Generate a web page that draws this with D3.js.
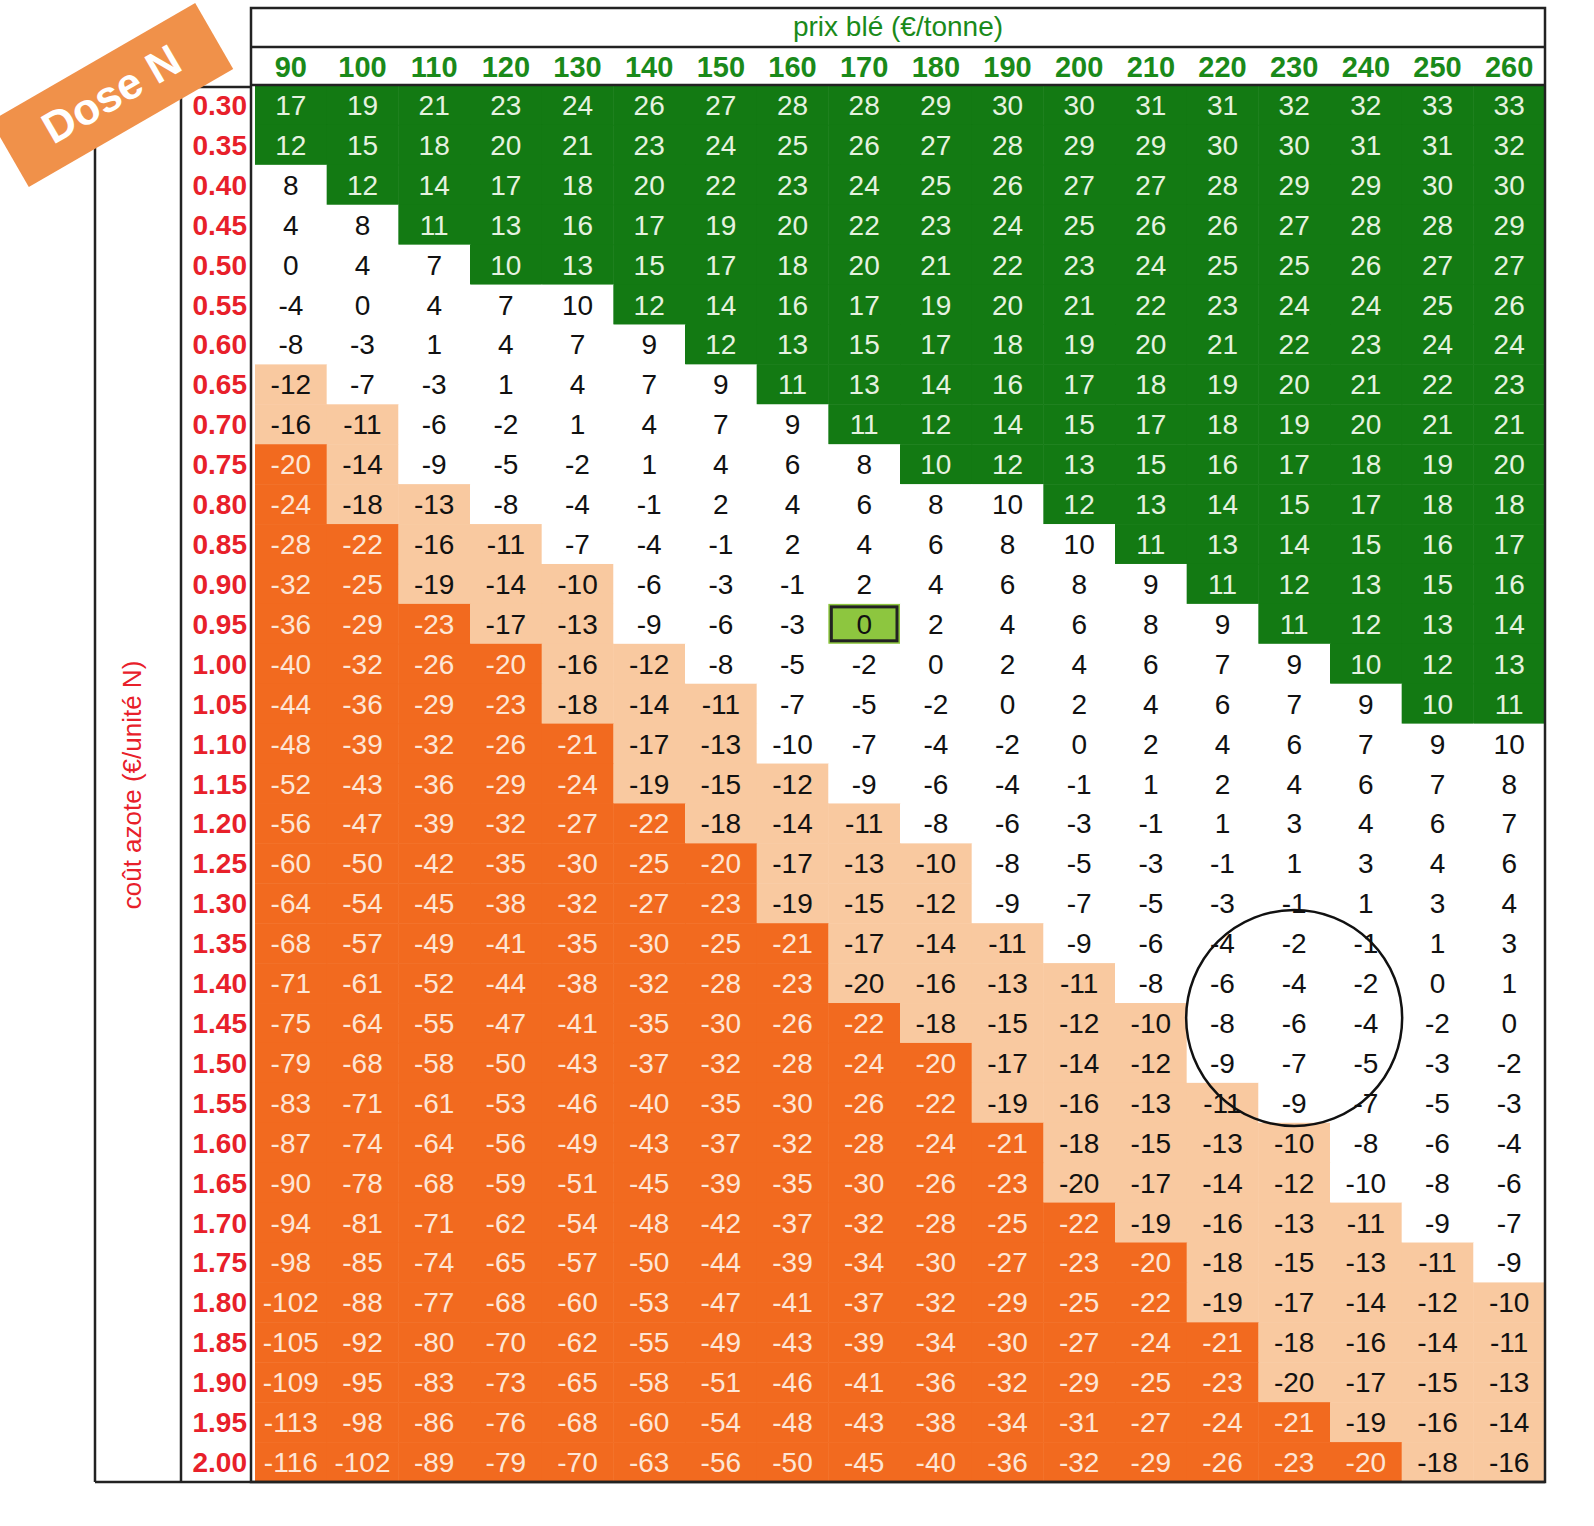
<!DOCTYPE html>
<html><head><meta charset="utf-8">
<script src="https://cdn.jsdelivr.net/npm/d3@7"></script>
<style>body{margin:0;background:#fff}</style></head>
<body><svg id="c" width="1594" height="1526"></svg>
<script>
const prices = [90,100,110,120,130,140,150,160,170,180,190,200,210,220,230,240,250,260];
const costs = ["0.30","0.35","0.40","0.45","0.50","0.55","0.60","0.65","0.70","0.75","0.80","0.85","0.90","0.95","1.00","1.05","1.10","1.15","1.20","1.25","1.30","1.35","1.40","1.45","1.50","1.55","1.60","1.65","1.70","1.75","1.80","1.85","1.90","1.95","2.00"];
const values = [
[17,19,21,23,24,26,27,28,28,29,30,30,31,31,32,32,33,33],
[12,15,18,20,21,23,24,25,26,27,28,29,29,30,30,31,31,32],
[8,12,14,17,18,20,22,23,24,25,26,27,27,28,29,29,30,30],
[4,8,11,13,16,17,19,20,22,23,24,25,26,26,27,28,28,29],
[0,4,7,10,13,15,17,18,20,21,22,23,24,25,25,26,27,27],
[-4,0,4,7,10,12,14,16,17,19,20,21,22,23,24,24,25,26],
[-8,-3,1,4,7,9,12,13,15,17,18,19,20,21,22,23,24,24],
[-12,-7,-3,1,4,7,9,11,13,14,16,17,18,19,20,21,22,23],
[-16,-11,-6,-2,1,4,7,9,11,12,14,15,17,18,19,20,21,21],
[-20,-14,-9,-5,-2,1,4,6,8,10,12,13,15,16,17,18,19,20],
[-24,-18,-13,-8,-4,-1,2,4,6,8,10,12,13,14,15,17,18,18],
[-28,-22,-16,-11,-7,-4,-1,2,4,6,8,10,11,13,14,15,16,17],
[-32,-25,-19,-14,-10,-6,-3,-1,2,4,6,8,9,11,12,13,15,16],
[-36,-29,-23,-17,-13,-9,-6,-3,0,2,4,6,8,9,11,12,13,14],
[-40,-32,-26,-20,-16,-12,-8,-5,-2,0,2,4,6,7,9,10,12,13],
[-44,-36,-29,-23,-18,-14,-11,-7,-5,-2,0,2,4,6,7,9,10,11],
[-48,-39,-32,-26,-21,-17,-13,-10,-7,-4,-2,0,2,4,6,7,9,10],
[-52,-43,-36,-29,-24,-19,-15,-12,-9,-6,-4,-1,1,2,4,6,7,8],
[-56,-47,-39,-32,-27,-22,-18,-14,-11,-8,-6,-3,-1,1,3,4,6,7],
[-60,-50,-42,-35,-30,-25,-20,-17,-13,-10,-8,-5,-3,-1,1,3,4,6],
[-64,-54,-45,-38,-32,-27,-23,-19,-15,-12,-9,-7,-5,-3,-1,1,3,4],
[-68,-57,-49,-41,-35,-30,-25,-21,-17,-14,-11,-9,-6,-4,-2,-1,1,3],
[-71,-61,-52,-44,-38,-32,-28,-23,-20,-16,-13,-11,-8,-6,-4,-2,0,1],
[-75,-64,-55,-47,-41,-35,-30,-26,-22,-18,-15,-12,-10,-8,-6,-4,-2,0],
[-79,-68,-58,-50,-43,-37,-32,-28,-24,-20,-17,-14,-12,-9,-7,-5,-3,-2],
[-83,-71,-61,-53,-46,-40,-35,-30,-26,-22,-19,-16,-13,-11,-9,-7,-5,-3],
[-87,-74,-64,-56,-49,-43,-37,-32,-28,-24,-21,-18,-15,-13,-10,-8,-6,-4],
[-90,-78,-68,-59,-51,-45,-39,-35,-30,-26,-23,-20,-17,-14,-12,-10,-8,-6],
[-94,-81,-71,-62,-54,-48,-42,-37,-32,-28,-25,-22,-19,-16,-13,-11,-9,-7],
[-98,-85,-74,-65,-57,-50,-44,-39,-34,-30,-27,-23,-20,-18,-15,-13,-11,-9],
[-102,-88,-77,-68,-60,-53,-47,-41,-37,-32,-29,-25,-22,-19,-17,-14,-12,-10],
[-105,-92,-80,-70,-62,-55,-49,-43,-39,-34,-30,-27,-24,-21,-18,-16,-14,-11],
[-109,-95,-83,-73,-65,-58,-51,-46,-41,-36,-32,-29,-25,-23,-20,-17,-15,-13],
[-113,-98,-86,-76,-68,-60,-54,-48,-43,-38,-34,-31,-27,-24,-21,-19,-16,-14],
[-116,-102,-89,-79,-70,-63,-56,-50,-45,-40,-36,-32,-29,-26,-23,-20,-18,-16]];
// per-row zone boundaries (column index): green from, dark orange count, white from
const greenFrom = [0,0,1,2,3,5,6,7,8,9,11,12,13,14,15,16,18,18,18,18,18,18,18,18,18,18,18,18,18,18,18,18,18,18,18];
const darkCount = [0,0,0,0,0,0,0,0,0,1,1,2,2,3,4,4,5,5,6,7,7,8,8,9,10,10,11,11,12,13,13,14,14,15,16];
const whiteFrom = [0,0,0,0,0,0,0,1,2,2,3,4,5,5,6,7,7,8,9,10,10,11,12,13,13,14,15,15,16,17,18,18,18,18,18];
const optimum = {cost:"0.95", price:170};
const circleCenter = {cost:"1.45", price:230};

const svg = d3.select("#c");
const x = d3.scaleBand().domain(prices).range([255,1545]);
const y = d3.scaleBand().domain(costs).range([85,1482]);
const font = "Arial, 'Liberation Sans', sans-serif";
const cells = [];
costs.forEach((c,i)=>prices.forEach((p,j)=>{
  let z = j>=greenFrom[i] ? "g" : j<darkCount[i] ? "d" : j<whiteFrom[i] ? "p" : "w";
  if (c===optimum.cost && p===optimum.price) z="opt";
  cells.push({c,p,v:values[i][j],z});
}));
const fill={g:"#137a13",d:"#f26a1f",p:"#f9c9a0",w:"#fff",opt:"#8dc63f"};
const tcol={g:"#e6f2e0",d:"#fde6d6",p:"#111",w:"#111",opt:"#111"};
svg.append("g").selectAll("rect").data(cells).join("rect")
  .attr("x",d=>x(d.p)).attr("y",d=>y(d.c)).attr("width",x.bandwidth()+0.5).attr("height",y.bandwidth()+0.5)
  .attr("fill",d=>fill[d.z]);
const o = cells.find(d=>d.z==="opt");
svg.append("rect").attr("x",x(o.p)+3).attr("y",y(o.c)+3).attr("width",x.bandwidth()-6).attr("height",y.bandwidth()-6)
  .attr("fill","#8dc63f").attr("stroke","#222").attr("stroke-width",3);
svg.append("g").selectAll("text").data(cells).join("text")
  .attr("x",d=>x(d.p)+x.bandwidth()/2).attr("y",d=>y(d.c)+y.bandwidth()/2+10)
  .attr("text-anchor","middle").attr("font-family",font).attr("font-size",28)
  .attr("fill",d=>tcol[d.z]).text(d=>d.v);
// frames
const line=(x1,y1,x2,y2,w=2.5)=>svg.append("line").attr("x1",x1).attr("y1",y1).attr("x2",x2).attr("y2",y2).attr("stroke","#222").attr("stroke-width",w);
svg.append("rect").attr("x",251).attr("y",8).attr("width",1294).attr("height",1474).attr("fill","none").attr("stroke","#222").attr("stroke-width",2.5);
line(251,47,1545,47); line(251,85,1545,85);
line(181,87,251,87); line(181,87,181,1482);
line(95,145,95,1482); line(95,1482,1545,1482);
// header texts
svg.append("text").attr("x",898).attr("y",36).attr("text-anchor","middle").attr("font-family",font).attr("font-size",28).attr("fill","#1a8a1a").text("prix blé (€/tonne)");
svg.append("g").selectAll("text").data(prices).join("text")
  .attr("x",d=>x(d)+x.bandwidth()/2).attr("y",77).attr("text-anchor","middle").attr("font-family",font).attr("font-size",29).attr("font-weight","bold").attr("fill","#1a8a1a").text(d=>d);
svg.append("g").selectAll("text").data(costs).join("text")
  .attr("x",247).attr("y",d=>y(d)+y.bandwidth()/2+10).attr("text-anchor","end").attr("font-family",font).attr("font-size",28).attr("font-weight","bold").attr("fill","#e8202a").text(d=>d);
svg.append("text").attr("transform","translate(141,785) rotate(-90)").attr("text-anchor","middle").attr("font-family",font).attr("font-size",26).attr("fill","#e8202a").text("coût azote (€/unité N)");
// ribbon
const rib = svg.append("g").attr("transform","translate(112,95) rotate(-30)");
rib.append("rect").attr("x",-118).attr("y",-38).attr("width",236).attr("height",76).attr("fill","#f0914a");
rib.append("text").attr("x",0).attr("y",14).attr("text-anchor","middle").attr("font-family",font).attr("font-size",44).attr("font-weight","bold").attr("fill","#fff").text("Dose N");
// circle
svg.append("circle").attr("cx",x(circleCenter.price)+x.bandwidth()/2).attr("cy",y(circleCenter.cost)+y.bandwidth()/2-5)
  .attr("r",108).attr("fill","none").attr("stroke","#111").attr("stroke-width",2.5);
</script></body></html>
